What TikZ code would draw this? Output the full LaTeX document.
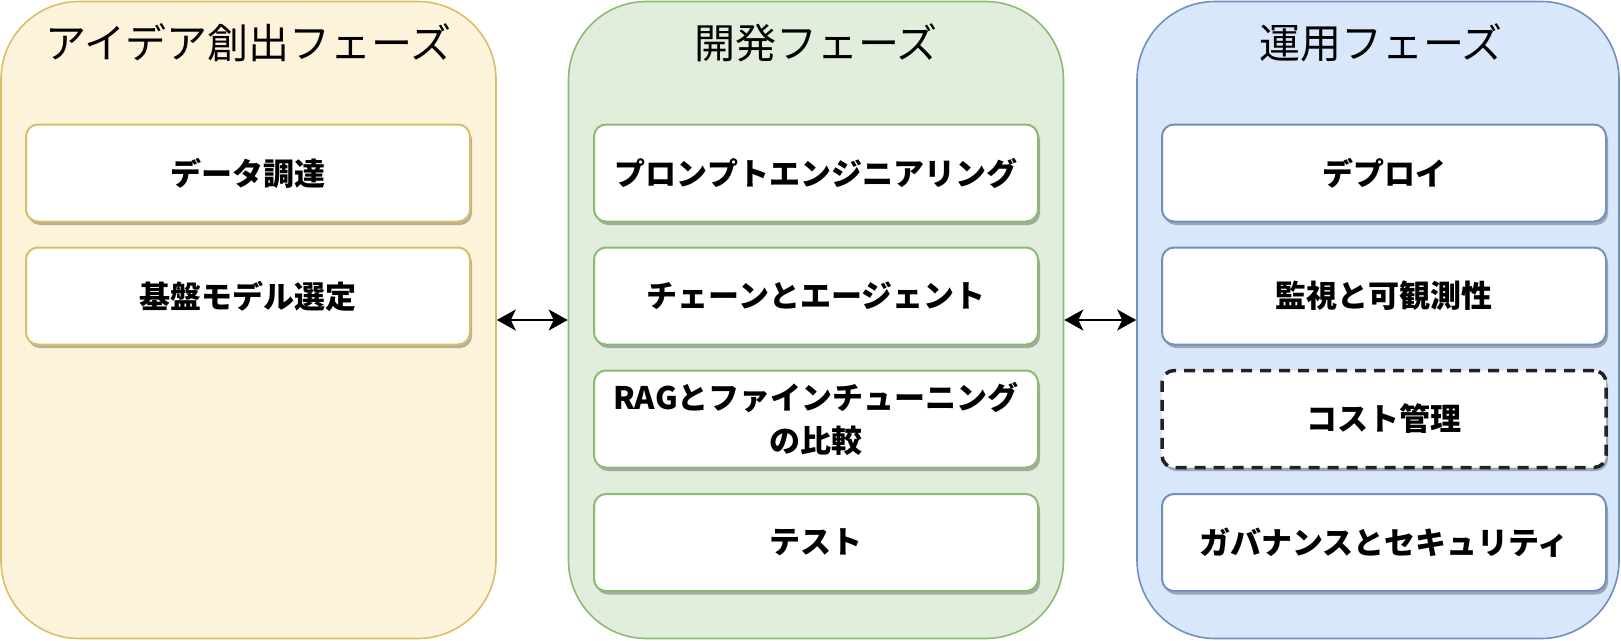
\documentclass[tikz,border=0pt]{standalone}
\usepackage{fontspec}
\setmainfont{Noto Sans CJK JP}
\usetikzlibrary{shadows,arrows.meta}
\definecolor{yfill}{HTML}{FCF3DA}
\definecolor{ystroke}{HTML}{D9BE68}
\definecolor{gfill}{HTML}{E1EEDC}
\definecolor{gstroke}{HTML}{8DB977}
\definecolor{bfill}{HTML}{D9E7FA}
\definecolor{bstroke}{HTML}{7090C0}
\definecolor{dashcol}{HTML}{222222}
\begin{document}
\begin{tikzpicture}[x=1pt,y=-1pt,
  phase/.style={draw=#1stroke, fill=#1fill, line width=1.6pt, rounded corners=78pt,
    minimum height=637pt, inner sep=0pt},
  phasetitle/.style={font=\fontsize{41}{48}\selectfont, inner sep=0pt},
  taskbox/.style={draw=#1, fill=white, line width=2pt, rounded corners=12pt,
    minimum width=444pt, minimum height=97pt, inner sep=0pt, align=center,
    font=\fontsize{31}{43}\selectfont\bfseries,
    drop shadow={shadow xshift=2pt, shadow yshift=-3.5pt, opacity=0.28, fill=black}},
  dashbox/.style={taskbox=dashcol, line width=3.5pt, dash pattern=on 11pt off 8pt},
  biarrow/.style={line width=2pt, {Stealth[length=19pt,width=21pt,inset=5pt]}-{Stealth[length=19pt,width=21pt,inset=5pt]}}
]
\useasboundingbox (0,0) rectangle (1621,640);

% containers
\node[phase=y, minimum width=495pt] (idea) at (248.5,320) {};
\node[phase=g, minimum width=495pt] (dev) at (816,320) {};
\node[phase=b, minimum width=482pt] (ops) at (1378,320) {};

% titles
\node[phasetitle] (ideaT) at (248.5,43) {アイデア創出フェーズ};
\node[phasetitle] (devT) at (816,43) {開発フェーズ};
\node[phasetitle] (opsT) at (1381,43) {運用フェーズ};

% idea phase tasks
\node[taskbox=ystroke] (i1) at (248,173) {データ調達};
\node[taskbox=ystroke] (i2) at (248,296) {基盤モデル選定};

% dev phase tasks
\node[taskbox=gstroke] (d1) at (816,173) {プロンプトエンジニアリング};
\node[taskbox=gstroke] (d2) at (816,296) {チェーンとエージェント};
\node[taskbox=gstroke] (d3) at (816,419) {RAGとファインチューニング\\の比較};
\node[taskbox=gstroke] (d4) at (816,542.5) {テスト};

% ops phase tasks
\node[taskbox=bstroke] (o1) at (1384,173) {デプロイ};
\node[taskbox=bstroke] (o2) at (1384,296) {監視と可観測性};
\node[dashbox] (o3) at (1384,419) {コスト管理};
\node[taskbox=bstroke] (o4) at (1384,542.5) {ガバナンスとセキュリティ};

% connectors
\draw[biarrow] (idea.east) -- (dev.west);
\draw[biarrow] (dev.east) -- (ops.west);
\end{tikzpicture}
\end{document}
